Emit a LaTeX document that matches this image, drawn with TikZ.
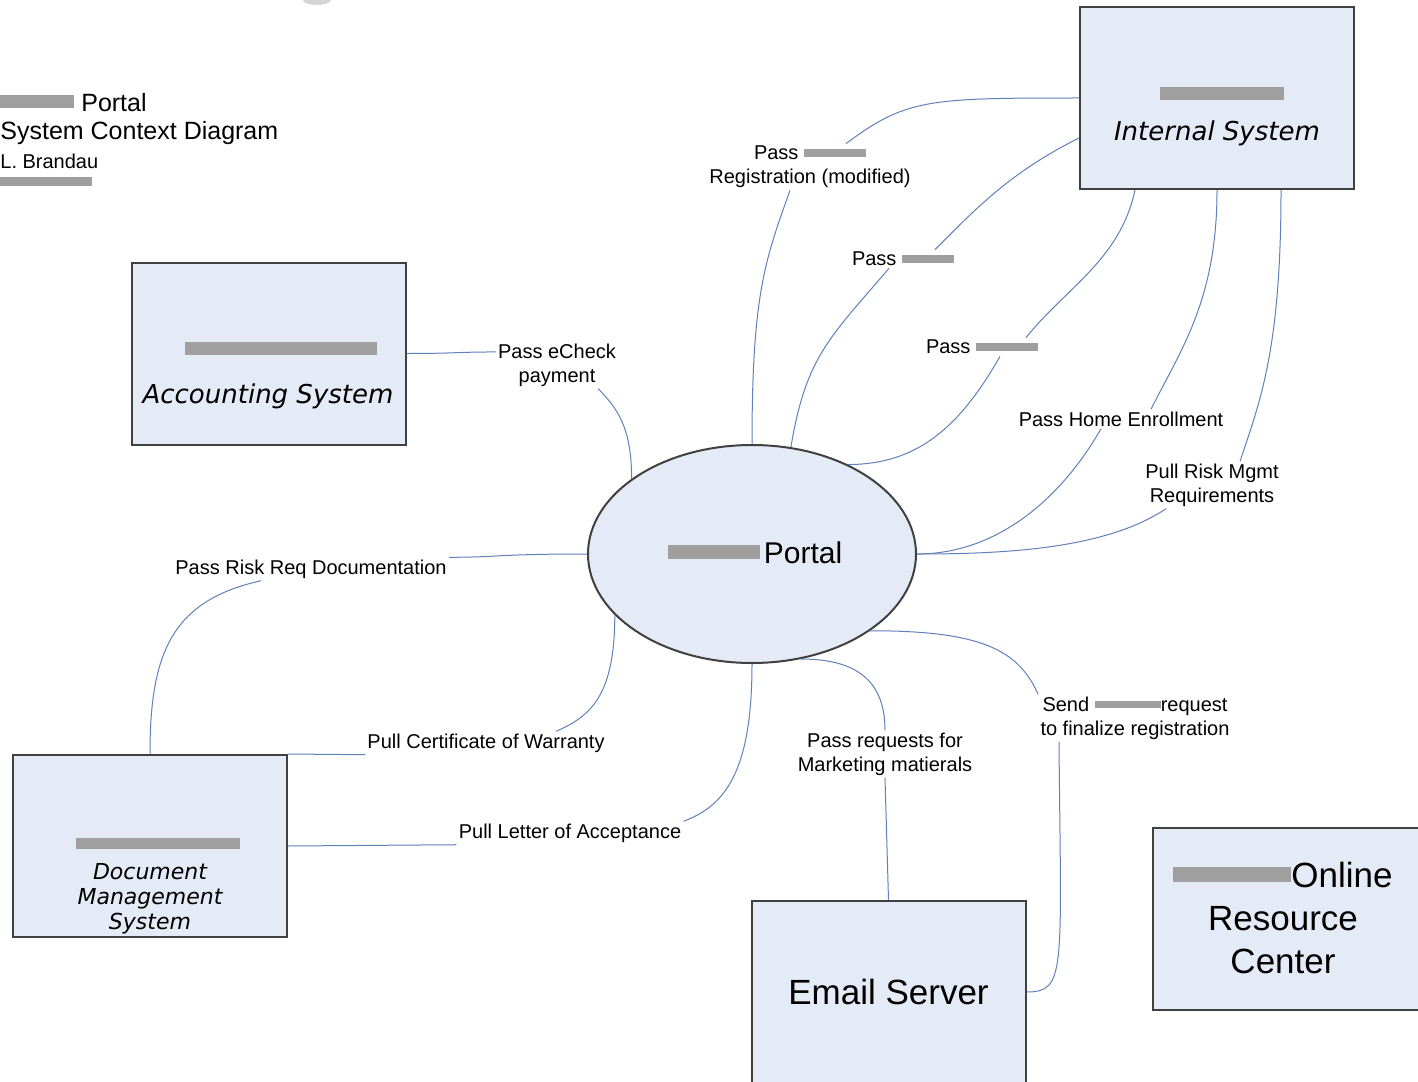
\documentclass[tikz,border=0pt]{standalone}
\usepackage{fontspec}
\setmainfont{Liberation Sans}
\newfontfamily\verdana{DejaVu Sans}
\usetikzlibrary{shapes.geometric}

\definecolor{boxfill}{RGB}{228,235,246}
\definecolor{boxline}{RGB}{64,64,64}
\definecolor{flowline}{RGB}{96,128,186}
% blurred-out names
\newcommand{\smudge}[2][0.7ex]{{\color{gray!75}\rule[0.3ex]{#2}{#1}}}

\tikzset{
  sysbox/.style={draw=boxline, line width=1pt, fill=boxfill, minimum width=137pt, minimum height=91pt, inner sep=0pt},
  flow/.style={draw=flowline, line width=0.5pt},
  lbl/.style={font=\fontsize{10}{12}\selectfont, align=center, inner sep=1pt},
  sysname/.style={font=\verdana\itshape\fontsize{13}{15}\selectfont, align=center, inner sep=0pt},
  bigname/.style={font=\fontsize{17.5}{21.5}\selectfont, align=center, inner sep=0pt},
}

\begin{document}
\begin{tikzpicture}[x=0.5pt,y=-0.5pt]
  \useasboundingbox (0,0) rectangle (1418,1081);
  \fill[gray!55, opacity=0.6] (317,0) ellipse (14 and 5);

  % title block
  \node[anchor=west, inner sep=0, font=\fontsize{12.5}{15}\selectfont] (t1) at (-2,103) {\smudge[1ex]{38pt} Portal};
  \node[anchor=west, inner sep=0, font=\fontsize{12.5}{15}\selectfont] (t2) at (0,133) {System Context Diagram};
  \node[anchor=west, inner sep=0, font=\fontsize{10}{12}\selectfont] (t3) at (0,161) {L. Brandau};
  \node[anchor=west, inner sep=0] (t4) at (-2,183) {\smudge[0.8ex]{47pt}};

  % systems
  \node[sysbox] (is) at (1217,98) {};
  \node[sysbox] (acc) at (268.5,353.5) {};
  \node[sysbox] (doc) at (150,846) {};
  \node[sysbox] (email) at (888.5,992) {};
  \node[sysbox] (orc) at (1290,919) {};
  \node[ellipse, draw=boxline, line width=1pt, fill=boxfill, minimum width=164pt, minimum height=109pt, inner sep=0pt] (portal) at (752,554) {};

  \node[inner sep=0] (isbar) at (1222,95) {\smudge[1.2ex]{62pt}};
  \node[sysname] (isname) at (1217,133) {Internal System};
  \node[inner sep=0] (accbar) at (281,350) {\smudge[1.2ex]{96pt}};
  \node[sysname] (accname) at (268,396) {Accounting System};
  \node[inner sep=0] (docbar) at (158,845) {\smudge[1.1ex]{82pt}};
  \node[sysname, font=\verdana\itshape\fontsize{11}{12.5}\selectfont] (docname) at (150,899) {Document\\Management\\System};
  \node[inner sep=0, font=\fontsize{15}{18}\selectfont] (portalname) at (755,553) {\smudge[0.9ex]{46pt}\hspace{2pt}Portal};
  \node[bigname] (emailname) at (888.5,992) {Email Server};
  \node[bigname] (orcname) at (1283,918) {\smudge[0.8ex]{59pt}Online\\Resource\\Center};

  % flow labels
  \node[lbl] (reg) at (810,167) {Pass \smudge{31pt}\\Registration (modified)};
  \node[lbl] (p2) at (903,259) {Pass \smudge{26pt}};
  \node[lbl] (p3) at (982,347) {Pass \smudge{31pt}};
  \node[lbl] (phe) at (1121,419) {Pass Home Enrollment};
  \node[lbl] (prm) at (1212,485) {Pull Risk Mgmt\\Requirements};
  \node[lbl] (pec) at (557,365) {Pass eCheck\\payment};
  \node[lbl] (prd) at (311,569) {Pass Risk Req Documentation};
  \node[lbl] (pcw) at (486,743) {Pull Certificate of Warranty};
  \node[lbl] (pla) at (570,833) {Pull Letter of Acceptance};
  \node[lbl] (prq) at (885,754) {Pass requests for\\Marketing matierals};
  \node[lbl] (sfr) at (1135,718) {Send \smudge{33pt}request\\to finalize registration};

  % connectors
  \draw[flow] (is.west) .. controls +(-150,0) and +(60,-45) .. ([xshift=18pt]reg.north);
  \draw[flow] ([xshift=-10pt]reg.south) .. controls +(-25,70) and +(0,-150) .. (portal.north);
  \draw[flow] ([yshift=-20pt]is.west) .. controls +(-70,35) and +(40,-40) .. ([xshift=16pt]p2.north);
  \draw[flow] ([xshift=-7pt]p2.south) .. controls +(-60,70) and +(15,-90) .. (portal.70);
  \draw[flow] ([xshift=-41pt]is.south) .. controls +(-15,70) and +(40,-50) .. ([xshift=22pt]p3.north);
  \draw[flow] ([xshift=9pt]p3.south) .. controls +(-40,70) and +(70,0) .. (portal.43);
  \draw[flow] (is.south) .. controls +(0,110) and +(30,-60) .. ([xshift=15pt]phe.north);
  \draw[flow] ([xshift=-10pt]phe.south) .. controls +(-40,70) and +(80,0) .. (portal.east);
  \draw[flow] ([xshift=32pt]is.south) .. controls +(0,160) and +(20,-60) .. ([xshift=14pt]prm.north);
  \draw[flow] ([xshift=-23pt]prm.south) .. controls +(-60,40) and +(90,0) .. (portal.east);
  \draw[flow] (acc.east) .. controls +(50,0) and +(-40,0) .. (pec.168);
  \draw[flow] (pec.330) .. controls +(20,20) and +(0,-50) .. (portal.148);
  \draw[flow] (portal.west) .. controls +(-90,0) and +(50,0) .. (prd.north east);
  \draw[flow] ([xshift=-25pt]prd.south) .. controls +(-90,20) and +(0,-100) .. (doc.north);
  \draw[flow] (portal.204) .. controls +(0,80) and +(35,-15) .. ([xshift=35pt]pcw.north);
  \draw[flow] (pcw.south west) -- (doc.north east);
  \draw[flow] (portal.south) .. controls +(0,110) and +(40,-15) .. (pla.north east);
  \draw[flow] (pla.south west) -- (doc.east);
  \draw[flow] (portal.295) .. controls +(55,0) and +(0,-50) .. (prq.north);
  \draw[flow] (prq.south) -- (email.north);
  \draw[flow] (portal.327) .. controls +(110,0) and +(-20,-45) .. (sfr.north west);
  \draw[flow] ([xshift=-38pt]sfr.south) .. controls +(2,230) and +(40,0) .. (email.east);
\end{tikzpicture}
\end{document}
